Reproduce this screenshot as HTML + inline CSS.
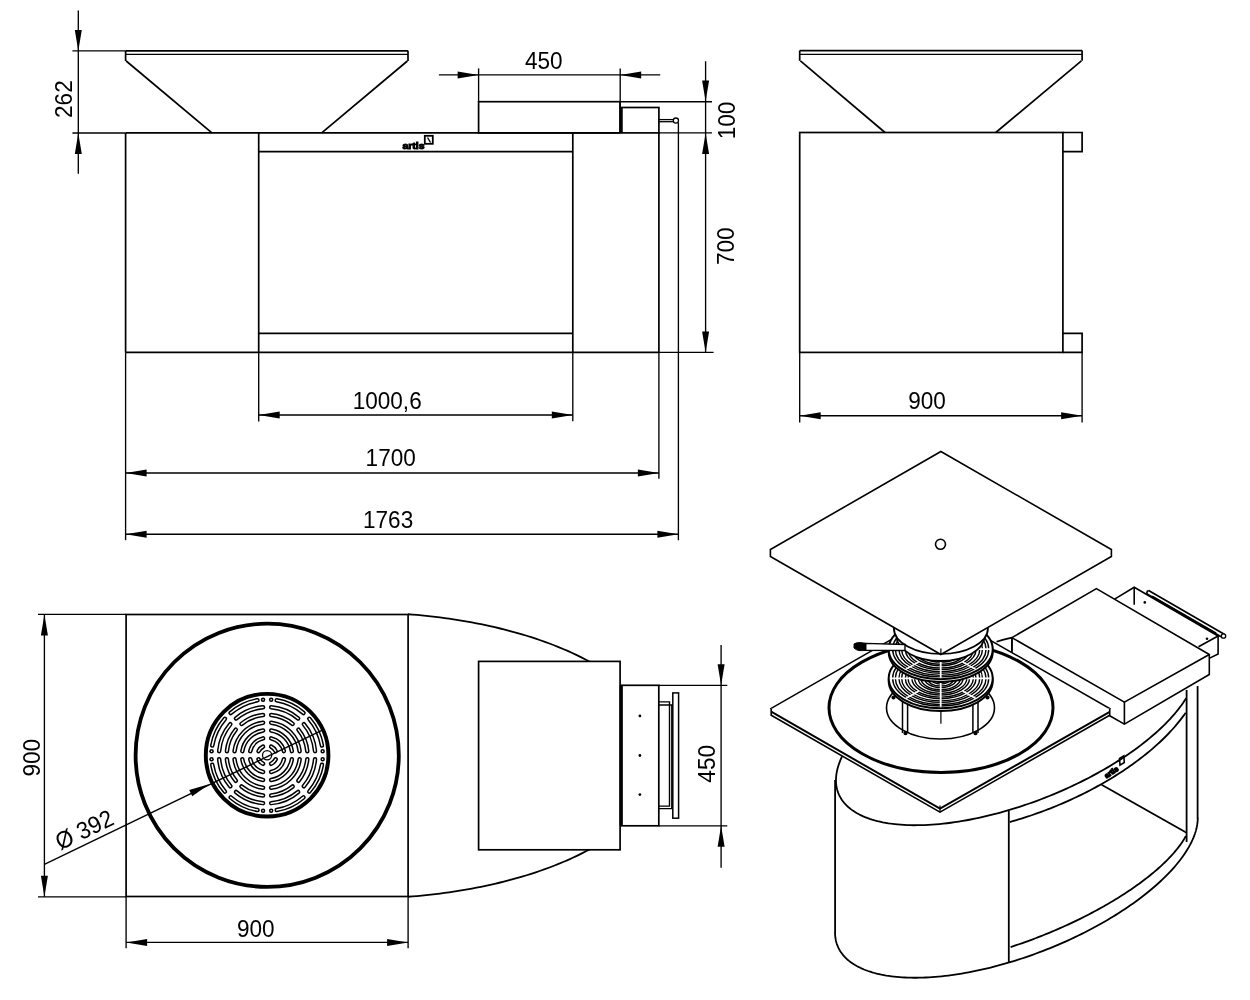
<!DOCTYPE html>
<html><head><meta charset="utf-8"><style>
html,body{margin:0;padding:0;background:#fff;overflow:hidden;}
svg{display:block;will-change:transform;}
text{font-family:"Liberation Sans",sans-serif;fill:#000;}
</style></head><body>
<svg width="1250" height="1000" viewBox="0 0 1250 1000">
<rect width="1250" height="1000" fill="#fff"/>
<line x1="78.30" y1="10.40" x2="78.30" y2="173.70" stroke="#000" stroke-width="1.35"/>
<line x1="72.40" y1="50.90" x2="125.60" y2="50.90" stroke="#000" stroke-width="1.35"/>
<line x1="72.40" y1="133.00" x2="125.60" y2="133.00" stroke="#000" stroke-width="1.35"/>
<polygon points="78.30,50.90 74.80,29.90 81.80,29.90" fill="#000"/>
<polygon points="78.30,133.00 81.80,154.00 74.80,154.00" fill="#000"/>
<text font-size="24" text-anchor="middle" transform="translate(72.38,99.12) rotate(-90) scale(0.94,1)">262</text>
<line x1="125.60" y1="50.80" x2="408.00" y2="50.80" stroke="#000" stroke-width="1.7"/>
<line x1="125.60" y1="54.40" x2="408.00" y2="54.40" stroke="#000" stroke-width="1.3"/>
<line x1="125.60" y1="50.80" x2="125.60" y2="61.00" stroke="#000" stroke-width="1.7"/>
<line x1="408.00" y1="50.80" x2="408.00" y2="61.00" stroke="#000" stroke-width="1.7"/>
<line x1="126.20" y1="61.00" x2="211.90" y2="132.80" stroke="#000" stroke-width="1.7"/>
<line x1="407.40" y1="61.00" x2="321.70" y2="132.80" stroke="#000" stroke-width="1.7"/>
<line x1="125.60" y1="132.90" x2="620.00" y2="132.90" stroke="#000" stroke-width="1.7"/>
<line x1="125.60" y1="132.90" x2="125.60" y2="352.40" stroke="#000" stroke-width="1.7"/>
<line x1="125.60" y1="352.40" x2="659.00" y2="352.40" stroke="#000" stroke-width="1.7"/>
<line x1="659.00" y1="352.40" x2="713.60" y2="352.40" stroke="#000" stroke-width="1.35"/>
<line x1="125.60" y1="352.40" x2="125.60" y2="540.20" stroke="#000" stroke-width="1.35"/>
<line x1="258.70" y1="132.90" x2="258.70" y2="352.40" stroke="#000" stroke-width="1.7"/>
<line x1="258.70" y1="352.40" x2="258.70" y2="421.60" stroke="#000" stroke-width="1.35"/>
<line x1="572.80" y1="132.90" x2="572.80" y2="352.40" stroke="#000" stroke-width="1.7"/>
<line x1="572.80" y1="352.40" x2="572.80" y2="421.20" stroke="#000" stroke-width="1.35"/>
<line x1="258.70" y1="151.60" x2="572.80" y2="151.60" stroke="#000" stroke-width="1.7"/>
<line x1="258.70" y1="333.40" x2="572.80" y2="333.40" stroke="#000" stroke-width="1.7"/>
<line x1="658.90" y1="132.90" x2="658.90" y2="352.40" stroke="#000" stroke-width="1.7"/>
<line x1="658.90" y1="352.40" x2="658.90" y2="478.80" stroke="#000" stroke-width="1.35"/>
<line x1="678.40" y1="122.50" x2="678.40" y2="540.20" stroke="#000" stroke-width="1.35"/>
<text x="402.5" y="148.6" font-size="10.5" font-weight="bold" textLength="22" lengthAdjust="spacingAndGlyphs" stroke="#000" stroke-width="1.1" fill="#222" transform="translate(402.5,148.6) scale(1,0.85) translate(-402.5,-148.6)">artis</text>
<rect x="424.80" y="135.80" width="8.00" height="8.00" fill="none" stroke="#000" stroke-width="1.8"/>
<line x1="427.50" y1="137.50" x2="430.50" y2="142.50" stroke="#000" stroke-width="1.4"/>
<rect x="478.60" y="101.70" width="141.40" height="31.20" fill="none" stroke="#000" stroke-width="1.7"/>
<line x1="620.00" y1="101.70" x2="712.00" y2="101.70" stroke="#000" stroke-width="1.35"/>
<line x1="478.60" y1="68.40" x2="478.60" y2="101.70" stroke="#000" stroke-width="1.35"/>
<line x1="620.20" y1="68.40" x2="620.20" y2="107.50" stroke="#000" stroke-width="1.35"/>
<rect x="621.50" y="107.50" width="37.40" height="25.40" fill="none" stroke="#000" stroke-width="1.7"/>
<line x1="621.00" y1="107.50" x2="621.00" y2="132.90" stroke="#000" stroke-width="3.2"/>
<line x1="658.90" y1="132.90" x2="712.00" y2="132.90" stroke="#000" stroke-width="1.35"/>
<line x1="658.90" y1="119.60" x2="673.20" y2="119.60" stroke="#000" stroke-width="1.3"/>
<line x1="658.90" y1="121.70" x2="673.20" y2="121.70" stroke="#000" stroke-width="1.3"/>
<circle cx="675.90" cy="120.60" r="2.60" fill="#fff" stroke="#000" stroke-width="1.3"/>
<line x1="438.90" y1="74.90" x2="660.20" y2="74.90" stroke="#000" stroke-width="1.35"/>
<polygon points="478.60,74.90 457.60,78.40 457.60,71.40" fill="#000"/>
<polygon points="620.20,74.90 641.20,71.40 641.20,78.40" fill="#000"/>
<text font-size="24" text-anchor="middle" transform="translate(543.80,68.50) rotate(0) scale(0.94,1)">450</text>
<line x1="705.60" y1="61.20" x2="705.60" y2="352.40" stroke="#000" stroke-width="1.35"/>
<polygon points="705.60,101.50 702.10,80.50 709.10,80.50" fill="#000"/>
<polygon points="705.60,132.90 709.10,153.90 702.10,153.90" fill="#000"/>
<polygon points="705.60,352.40 702.10,331.40 709.10,331.40" fill="#000"/>
<text font-size="24" text-anchor="middle" transform="translate(734.88,120.50) rotate(-90) scale(0.94,1)">100</text>
<text font-size="24" text-anchor="middle" transform="translate(733.50,246.25) rotate(-90) scale(0.94,1)">700</text>
<line x1="258.70" y1="415.00" x2="572.80" y2="415.00" stroke="#000" stroke-width="1.35"/>
<polygon points="258.70,415.00 279.70,411.50 279.70,418.50" fill="#000"/>
<polygon points="572.80,415.00 551.80,418.50 551.80,411.50" fill="#000"/>
<text font-size="24" text-anchor="middle" transform="translate(387.20,408.50) rotate(0) scale(0.94,1)">1000,6</text>
<line x1="125.60" y1="473.00" x2="658.90" y2="473.00" stroke="#000" stroke-width="1.35"/>
<polygon points="125.60,473.00 146.60,469.50 146.60,476.50" fill="#000"/>
<polygon points="658.90,473.00 637.90,476.50 637.90,469.50" fill="#000"/>
<text font-size="24" text-anchor="middle" transform="translate(390.70,466.25) rotate(0) scale(0.94,1)">1700</text>
<line x1="125.60" y1="534.20" x2="678.40" y2="534.20" stroke="#000" stroke-width="1.35"/>
<polygon points="125.60,534.20 146.60,530.70 146.60,537.70" fill="#000"/>
<polygon points="678.40,534.20 657.40,537.70 657.40,530.70" fill="#000"/>
<text font-size="24" text-anchor="middle" transform="translate(388.10,527.70) rotate(0) scale(0.94,1)">1763</text>
<line x1="799.70" y1="50.60" x2="1082.10" y2="50.60" stroke="#000" stroke-width="1.7"/>
<line x1="799.70" y1="54.30" x2="1082.10" y2="54.30" stroke="#000" stroke-width="1.3"/>
<line x1="799.70" y1="50.60" x2="799.70" y2="60.80" stroke="#000" stroke-width="1.7"/>
<line x1="1082.10" y1="50.60" x2="1082.10" y2="60.80" stroke="#000" stroke-width="1.7"/>
<line x1="800.40" y1="60.80" x2="885.00" y2="132.50" stroke="#000" stroke-width="1.7"/>
<line x1="1081.40" y1="60.80" x2="995.80" y2="132.50" stroke="#000" stroke-width="1.7"/>
<rect x="799.70" y="132.50" width="263.20" height="219.90" fill="none" stroke="#000" stroke-width="1.7"/>
<polyline points="1062.90,132.50 1082.10,132.50 1082.10,151.60 1062.90,151.60" fill="none" stroke="#000" stroke-width="1.7" stroke-linejoin="miter" />
<polyline points="1062.90,333.30 1082.10,333.30 1082.10,352.40 1062.90,352.40" fill="none" stroke="#000" stroke-width="1.7" stroke-linejoin="miter" />
<line x1="799.70" y1="352.40" x2="799.70" y2="422.40" stroke="#000" stroke-width="1.35"/>
<line x1="1082.10" y1="352.40" x2="1082.10" y2="422.40" stroke="#000" stroke-width="1.35"/>
<line x1="799.70" y1="415.70" x2="1082.10" y2="415.70" stroke="#000" stroke-width="1.35"/>
<polygon points="799.70,415.70 820.70,412.20 820.70,419.20" fill="#000"/>
<polygon points="1082.10,415.70 1061.10,419.20 1061.10,412.20" fill="#000"/>
<text font-size="24" text-anchor="middle" transform="translate(927.05,409.00) rotate(0) scale(0.94,1)">900</text>
<polyline points="408.00,614.23 412.56,614.59 417.12,614.97 421.69,615.40 426.25,615.86 430.81,616.35 435.38,616.87 439.94,617.44 444.50,618.04 449.06,618.67 453.62,619.35 458.19,620.06 462.75,620.80 467.31,621.59 471.88,622.42 476.44,623.28 481.00,624.19 485.56,625.14 490.12,626.14 494.69,627.17 499.25,628.25 503.81,629.38 508.38,630.55 512.94,631.78 517.50,633.05 522.06,634.38 526.62,635.75 531.19,637.19 535.75,638.68 540.31,640.23 544.88,641.84 549.44,643.52 554.00,645.26 558.56,647.08 563.12,648.97 567.69,650.93 572.25,652.99 576.81,655.12 581.38,657.36 585.94,659.69 590.50,662.13" fill="none" stroke="#000" stroke-width="1.8" stroke-linejoin="miter" />
<polyline points="408.00,896.77 412.56,896.41 417.12,896.03 421.69,895.60 426.25,895.14 430.81,894.65 435.38,894.13 439.94,893.56 444.50,892.96 449.06,892.33 453.62,891.65 458.19,890.94 462.75,890.20 467.31,889.41 471.88,888.58 476.44,887.72 481.00,886.81 485.56,885.86 490.12,884.86 494.69,883.83 499.25,882.75 503.81,881.62 508.38,880.45 512.94,879.22 517.50,877.95 522.06,876.62 526.62,875.25 531.19,873.81 535.75,872.32 540.31,870.77 544.88,869.16 549.44,867.48 554.00,865.74 558.56,863.92 563.12,862.03 567.69,860.07 572.25,858.01 576.81,855.88 581.38,853.64 585.94,851.31 590.50,848.87" fill="none" stroke="#000" stroke-width="1.8" stroke-linejoin="miter" />
<rect x="126.10" y="614.50" width="282.00" height="282.00" fill="none" stroke="#000" stroke-width="1.7"/>
<circle cx="267.20" cy="755.30" r="131.60" fill="none" stroke="#000" stroke-width="3.8"/>
<line x1="38.00" y1="614.40" x2="126.10" y2="614.40" stroke="#000" stroke-width="1.35"/>
<line x1="38.00" y1="896.80" x2="126.10" y2="896.80" stroke="#000" stroke-width="1.35"/>
<line x1="44.40" y1="614.40" x2="44.40" y2="896.80" stroke="#000" stroke-width="1.35"/>
<polygon points="44.40,614.40 47.90,635.40 40.90,635.40" fill="#000"/>
<polygon points="44.40,896.80 40.90,875.80 47.90,875.80" fill="#000"/>
<text font-size="24" text-anchor="middle" transform="translate(40.12,757.78) rotate(-90) scale(0.94,1)">900</text>
<line x1="126.10" y1="896.50" x2="126.10" y2="948.20" stroke="#000" stroke-width="1.35"/>
<line x1="408.10" y1="896.50" x2="408.10" y2="948.20" stroke="#000" stroke-width="1.35"/>
<line x1="126.10" y1="942.40" x2="408.10" y2="942.40" stroke="#000" stroke-width="1.35"/>
<polygon points="126.10,942.40 147.10,938.90 147.10,945.90" fill="#000"/>
<polygon points="408.10,942.40 387.10,945.90 387.10,938.90" fill="#000"/>
<text font-size="24" text-anchor="middle" transform="translate(255.85,936.85) rotate(0) scale(0.94,1)">900</text>
<path d="M275.69,751.15 A9.50,9.50 0 0 0 271.15,746.61" fill="none" stroke="#000" stroke-width="4.5" stroke-linecap="round"/>
<path d="M283.92,751.15 A17.30,17.30 0 0 0 271.15,738.38" fill="none" stroke="#000" stroke-width="4.5" stroke-linecap="round"/>
<path d="M291.87,751.15 A25.10,25.10 0 0 0 271.15,730.43" fill="none" stroke="#000" stroke-width="4.5" stroke-linecap="round"/>
<path d="M299.65,751.15 A32.80,32.80 0 0 0 271.15,722.65" fill="none" stroke="#000" stroke-width="4.5" stroke-linecap="round"/>
<path d="M307.30,751.15 A40.40,40.40 0 0 0 298.39,729.64" fill="none" stroke="#000" stroke-width="4.5" stroke-linecap="round"/>
<path d="M292.66,723.91 A40.40,40.40 0 0 0 271.15,715.00" fill="none" stroke="#000" stroke-width="4.5" stroke-linecap="round"/>
<path d="M315.03,751.15 A48.10,48.10 0 0 0 303.85,724.17" fill="none" stroke="#000" stroke-width="4.5" stroke-linecap="round"/>
<path d="M298.13,718.45 A48.10,48.10 0 0 0 271.15,707.27" fill="none" stroke="#000" stroke-width="4.5" stroke-linecap="round"/>
<path d="M322.65,751.15 A55.70,55.70 0 0 0 322.65,751.14" fill="none" stroke="#000" stroke-width="4.5" stroke-linecap="round"/>
<path d="M321.97,745.59 A55.70,55.70 0 0 0 309.25,718.78" fill="none" stroke="#000" stroke-width="4.5" stroke-linecap="round"/>
<path d="M303.52,713.05 A55.70,55.70 0 0 0 276.71,700.33" fill="none" stroke="#000" stroke-width="4.5" stroke-linecap="round"/>
<path d="M271.16,699.65 A55.70,55.70 0 0 0 271.15,699.65" fill="none" stroke="#000" stroke-width="4.5" stroke-linecap="round"/>
<path d="M263.05,746.61 A9.50,9.50 0 0 0 258.51,751.15" fill="none" stroke="#000" stroke-width="4.5" stroke-linecap="round"/>
<path d="M263.05,738.38 A17.30,17.30 0 0 0 250.28,751.15" fill="none" stroke="#000" stroke-width="4.5" stroke-linecap="round"/>
<path d="M263.05,730.43 A25.10,25.10 0 0 0 242.33,751.15" fill="none" stroke="#000" stroke-width="4.5" stroke-linecap="round"/>
<path d="M263.05,722.65 A32.80,32.80 0 0 0 234.55,751.15" fill="none" stroke="#000" stroke-width="4.5" stroke-linecap="round"/>
<path d="M263.05,715.00 A40.40,40.40 0 0 0 241.54,723.91" fill="none" stroke="#000" stroke-width="4.5" stroke-linecap="round"/>
<path d="M235.81,729.64 A40.40,40.40 0 0 0 226.90,751.15" fill="none" stroke="#000" stroke-width="4.5" stroke-linecap="round"/>
<path d="M263.05,707.27 A48.10,48.10 0 0 0 236.07,718.45" fill="none" stroke="#000" stroke-width="4.5" stroke-linecap="round"/>
<path d="M230.35,724.17 A48.10,48.10 0 0 0 219.17,751.15" fill="none" stroke="#000" stroke-width="4.5" stroke-linecap="round"/>
<path d="M263.05,699.65 A55.70,55.70 0 0 0 263.04,699.65" fill="none" stroke="#000" stroke-width="4.5" stroke-linecap="round"/>
<path d="M257.49,700.33 A55.70,55.70 0 0 0 230.68,713.05" fill="none" stroke="#000" stroke-width="4.5" stroke-linecap="round"/>
<path d="M224.95,718.78 A55.70,55.70 0 0 0 212.23,745.59" fill="none" stroke="#000" stroke-width="4.5" stroke-linecap="round"/>
<path d="M211.55,751.14 A55.70,55.70 0 0 0 211.55,751.15" fill="none" stroke="#000" stroke-width="4.5" stroke-linecap="round"/>
<path d="M258.51,759.25 A9.50,9.50 0 0 0 263.05,763.79" fill="none" stroke="#000" stroke-width="4.5" stroke-linecap="round"/>
<path d="M250.28,759.25 A17.30,17.30 0 0 0 263.05,772.02" fill="none" stroke="#000" stroke-width="4.5" stroke-linecap="round"/>
<path d="M242.33,759.25 A25.10,25.10 0 0 0 263.05,779.97" fill="none" stroke="#000" stroke-width="4.5" stroke-linecap="round"/>
<path d="M234.55,759.25 A32.80,32.80 0 0 0 263.05,787.75" fill="none" stroke="#000" stroke-width="4.5" stroke-linecap="round"/>
<path d="M226.90,759.25 A40.40,40.40 0 0 0 235.81,780.76" fill="none" stroke="#000" stroke-width="4.5" stroke-linecap="round"/>
<path d="M241.54,786.49 A40.40,40.40 0 0 0 263.05,795.40" fill="none" stroke="#000" stroke-width="4.5" stroke-linecap="round"/>
<path d="M219.17,759.25 A48.10,48.10 0 0 0 230.35,786.23" fill="none" stroke="#000" stroke-width="4.5" stroke-linecap="round"/>
<path d="M236.07,791.95 A48.10,48.10 0 0 0 263.05,803.13" fill="none" stroke="#000" stroke-width="4.5" stroke-linecap="round"/>
<path d="M211.55,759.25 A55.70,55.70 0 0 0 211.55,759.26" fill="none" stroke="#000" stroke-width="4.5" stroke-linecap="round"/>
<path d="M212.23,764.81 A55.70,55.70 0 0 0 224.95,791.62" fill="none" stroke="#000" stroke-width="4.5" stroke-linecap="round"/>
<path d="M230.68,797.35 A55.70,55.70 0 0 0 257.49,810.07" fill="none" stroke="#000" stroke-width="4.5" stroke-linecap="round"/>
<path d="M263.04,810.75 A55.70,55.70 0 0 0 263.05,810.75" fill="none" stroke="#000" stroke-width="4.5" stroke-linecap="round"/>
<path d="M271.15,763.79 A9.50,9.50 0 0 0 275.69,759.25" fill="none" stroke="#000" stroke-width="4.5" stroke-linecap="round"/>
<path d="M271.15,772.02 A17.30,17.30 0 0 0 283.92,759.25" fill="none" stroke="#000" stroke-width="4.5" stroke-linecap="round"/>
<path d="M271.15,779.97 A25.10,25.10 0 0 0 291.87,759.25" fill="none" stroke="#000" stroke-width="4.5" stroke-linecap="round"/>
<path d="M271.15,787.75 A32.80,32.80 0 0 0 299.65,759.25" fill="none" stroke="#000" stroke-width="4.5" stroke-linecap="round"/>
<path d="M271.15,795.40 A40.40,40.40 0 0 0 292.66,786.49" fill="none" stroke="#000" stroke-width="4.5" stroke-linecap="round"/>
<path d="M298.39,780.76 A40.40,40.40 0 0 0 307.30,759.25" fill="none" stroke="#000" stroke-width="4.5" stroke-linecap="round"/>
<path d="M271.15,803.13 A48.10,48.10 0 0 0 298.13,791.95" fill="none" stroke="#000" stroke-width="4.5" stroke-linecap="round"/>
<path d="M303.85,786.23 A48.10,48.10 0 0 0 315.03,759.25" fill="none" stroke="#000" stroke-width="4.5" stroke-linecap="round"/>
<path d="M271.15,810.75 A55.70,55.70 0 0 0 271.16,810.75" fill="none" stroke="#000" stroke-width="4.5" stroke-linecap="round"/>
<path d="M276.71,810.07 A55.70,55.70 0 0 0 303.52,797.35" fill="none" stroke="#000" stroke-width="4.5" stroke-linecap="round"/>
<path d="M309.25,791.62 A55.70,55.70 0 0 0 321.97,764.81" fill="none" stroke="#000" stroke-width="4.5" stroke-linecap="round"/>
<path d="M322.65,759.26 A55.70,55.70 0 0 0 322.65,759.25" fill="none" stroke="#000" stroke-width="4.5" stroke-linecap="round"/>
<path d="M275.69,751.15 A9.50,9.50 0 0 0 271.15,746.61" fill="none" stroke="#fff" stroke-width="1.5" stroke-linecap="round"/>
<path d="M283.92,751.15 A17.30,17.30 0 0 0 271.15,738.38" fill="none" stroke="#fff" stroke-width="1.5" stroke-linecap="round"/>
<path d="M291.87,751.15 A25.10,25.10 0 0 0 271.15,730.43" fill="none" stroke="#fff" stroke-width="1.5" stroke-linecap="round"/>
<path d="M299.65,751.15 A32.80,32.80 0 0 0 271.15,722.65" fill="none" stroke="#fff" stroke-width="1.5" stroke-linecap="round"/>
<path d="M307.30,751.15 A40.40,40.40 0 0 0 298.39,729.64" fill="none" stroke="#fff" stroke-width="1.5" stroke-linecap="round"/>
<path d="M292.66,723.91 A40.40,40.40 0 0 0 271.15,715.00" fill="none" stroke="#fff" stroke-width="1.5" stroke-linecap="round"/>
<path d="M315.03,751.15 A48.10,48.10 0 0 0 303.85,724.17" fill="none" stroke="#fff" stroke-width="1.5" stroke-linecap="round"/>
<path d="M298.13,718.45 A48.10,48.10 0 0 0 271.15,707.27" fill="none" stroke="#fff" stroke-width="1.5" stroke-linecap="round"/>
<path d="M322.65,751.15 A55.70,55.70 0 0 0 322.65,751.14" fill="none" stroke="#fff" stroke-width="1.5" stroke-linecap="round"/>
<path d="M321.97,745.59 A55.70,55.70 0 0 0 309.25,718.78" fill="none" stroke="#fff" stroke-width="1.5" stroke-linecap="round"/>
<path d="M303.52,713.05 A55.70,55.70 0 0 0 276.71,700.33" fill="none" stroke="#fff" stroke-width="1.5" stroke-linecap="round"/>
<path d="M271.16,699.65 A55.70,55.70 0 0 0 271.15,699.65" fill="none" stroke="#fff" stroke-width="1.5" stroke-linecap="round"/>
<path d="M263.05,746.61 A9.50,9.50 0 0 0 258.51,751.15" fill="none" stroke="#fff" stroke-width="1.5" stroke-linecap="round"/>
<path d="M263.05,738.38 A17.30,17.30 0 0 0 250.28,751.15" fill="none" stroke="#fff" stroke-width="1.5" stroke-linecap="round"/>
<path d="M263.05,730.43 A25.10,25.10 0 0 0 242.33,751.15" fill="none" stroke="#fff" stroke-width="1.5" stroke-linecap="round"/>
<path d="M263.05,722.65 A32.80,32.80 0 0 0 234.55,751.15" fill="none" stroke="#fff" stroke-width="1.5" stroke-linecap="round"/>
<path d="M263.05,715.00 A40.40,40.40 0 0 0 241.54,723.91" fill="none" stroke="#fff" stroke-width="1.5" stroke-linecap="round"/>
<path d="M235.81,729.64 A40.40,40.40 0 0 0 226.90,751.15" fill="none" stroke="#fff" stroke-width="1.5" stroke-linecap="round"/>
<path d="M263.05,707.27 A48.10,48.10 0 0 0 236.07,718.45" fill="none" stroke="#fff" stroke-width="1.5" stroke-linecap="round"/>
<path d="M230.35,724.17 A48.10,48.10 0 0 0 219.17,751.15" fill="none" stroke="#fff" stroke-width="1.5" stroke-linecap="round"/>
<path d="M263.05,699.65 A55.70,55.70 0 0 0 263.04,699.65" fill="none" stroke="#fff" stroke-width="1.5" stroke-linecap="round"/>
<path d="M257.49,700.33 A55.70,55.70 0 0 0 230.68,713.05" fill="none" stroke="#fff" stroke-width="1.5" stroke-linecap="round"/>
<path d="M224.95,718.78 A55.70,55.70 0 0 0 212.23,745.59" fill="none" stroke="#fff" stroke-width="1.5" stroke-linecap="round"/>
<path d="M211.55,751.14 A55.70,55.70 0 0 0 211.55,751.15" fill="none" stroke="#fff" stroke-width="1.5" stroke-linecap="round"/>
<path d="M258.51,759.25 A9.50,9.50 0 0 0 263.05,763.79" fill="none" stroke="#fff" stroke-width="1.5" stroke-linecap="round"/>
<path d="M250.28,759.25 A17.30,17.30 0 0 0 263.05,772.02" fill="none" stroke="#fff" stroke-width="1.5" stroke-linecap="round"/>
<path d="M242.33,759.25 A25.10,25.10 0 0 0 263.05,779.97" fill="none" stroke="#fff" stroke-width="1.5" stroke-linecap="round"/>
<path d="M234.55,759.25 A32.80,32.80 0 0 0 263.05,787.75" fill="none" stroke="#fff" stroke-width="1.5" stroke-linecap="round"/>
<path d="M226.90,759.25 A40.40,40.40 0 0 0 235.81,780.76" fill="none" stroke="#fff" stroke-width="1.5" stroke-linecap="round"/>
<path d="M241.54,786.49 A40.40,40.40 0 0 0 263.05,795.40" fill="none" stroke="#fff" stroke-width="1.5" stroke-linecap="round"/>
<path d="M219.17,759.25 A48.10,48.10 0 0 0 230.35,786.23" fill="none" stroke="#fff" stroke-width="1.5" stroke-linecap="round"/>
<path d="M236.07,791.95 A48.10,48.10 0 0 0 263.05,803.13" fill="none" stroke="#fff" stroke-width="1.5" stroke-linecap="round"/>
<path d="M211.55,759.25 A55.70,55.70 0 0 0 211.55,759.26" fill="none" stroke="#fff" stroke-width="1.5" stroke-linecap="round"/>
<path d="M212.23,764.81 A55.70,55.70 0 0 0 224.95,791.62" fill="none" stroke="#fff" stroke-width="1.5" stroke-linecap="round"/>
<path d="M230.68,797.35 A55.70,55.70 0 0 0 257.49,810.07" fill="none" stroke="#fff" stroke-width="1.5" stroke-linecap="round"/>
<path d="M263.04,810.75 A55.70,55.70 0 0 0 263.05,810.75" fill="none" stroke="#fff" stroke-width="1.5" stroke-linecap="round"/>
<path d="M271.15,763.79 A9.50,9.50 0 0 0 275.69,759.25" fill="none" stroke="#fff" stroke-width="1.5" stroke-linecap="round"/>
<path d="M271.15,772.02 A17.30,17.30 0 0 0 283.92,759.25" fill="none" stroke="#fff" stroke-width="1.5" stroke-linecap="round"/>
<path d="M271.15,779.97 A25.10,25.10 0 0 0 291.87,759.25" fill="none" stroke="#fff" stroke-width="1.5" stroke-linecap="round"/>
<path d="M271.15,787.75 A32.80,32.80 0 0 0 299.65,759.25" fill="none" stroke="#fff" stroke-width="1.5" stroke-linecap="round"/>
<path d="M271.15,795.40 A40.40,40.40 0 0 0 292.66,786.49" fill="none" stroke="#fff" stroke-width="1.5" stroke-linecap="round"/>
<path d="M298.39,780.76 A40.40,40.40 0 0 0 307.30,759.25" fill="none" stroke="#fff" stroke-width="1.5" stroke-linecap="round"/>
<path d="M271.15,803.13 A48.10,48.10 0 0 0 298.13,791.95" fill="none" stroke="#fff" stroke-width="1.5" stroke-linecap="round"/>
<path d="M303.85,786.23 A48.10,48.10 0 0 0 315.03,759.25" fill="none" stroke="#fff" stroke-width="1.5" stroke-linecap="round"/>
<path d="M271.15,810.75 A55.70,55.70 0 0 0 271.16,810.75" fill="none" stroke="#fff" stroke-width="1.5" stroke-linecap="round"/>
<path d="M276.71,810.07 A55.70,55.70 0 0 0 303.52,797.35" fill="none" stroke="#fff" stroke-width="1.5" stroke-linecap="round"/>
<path d="M309.25,791.62 A55.70,55.70 0 0 0 321.97,764.81" fill="none" stroke="#fff" stroke-width="1.5" stroke-linecap="round"/>
<path d="M322.65,759.26 A55.70,55.70 0 0 0 322.65,759.25" fill="none" stroke="#fff" stroke-width="1.5" stroke-linecap="round"/>
<circle cx="267.10" cy="755.20" r="61.30" fill="none" stroke="#000" stroke-width="3.9"/>
<circle cx="267.10" cy="755.20" r="4.60" fill="none" stroke="#000" stroke-width="1.3"/>
<line x1="44.40" y1="864.40" x2="324.00" y2="729.30" stroke="#000" stroke-width="1.35"/>
<polygon points="209.60,784.00 192.25,796.34 189.19,790.04" fill="#000"/>
<text font-size="24" text-anchor="middle" transform="translate(87.8,837.2) rotate(-25.9) scale(0.94,1)">Ø 392</text>
<rect x="478.60" y="661.40" width="141.50" height="188.40" fill="#fff" stroke="#000" stroke-width="1.7"/>
<rect x="621.80" y="685.30" width="37.00" height="140.50" fill="none" stroke="#000" stroke-width="1.7"/>
<line x1="621.10" y1="685.30" x2="621.10" y2="825.80" stroke="#000" stroke-width="3.0"/>
<circle cx="639.90" cy="715.90" r="1.40" fill="#000" stroke="#000" stroke-width="0"/>
<circle cx="639.90" cy="755.50" r="1.40" fill="#000" stroke="#000" stroke-width="0"/>
<circle cx="639.90" cy="794.60" r="1.40" fill="#000" stroke="#000" stroke-width="0"/>
<rect x="672.80" y="692.90" width="5.80" height="125.30" fill="none" stroke="#000" stroke-width="1.5"/>
<path d="M658.8,701.9 L669.5,701.9 L669.5,806.1 L658.8,806.1" fill="none" stroke="#000" stroke-width="1.4" />
<path d="M658.8,705.0 L671.8,705.0 L671.8,808.6 L658.8,808.6" fill="none" stroke="#000" stroke-width="1.4" />
<line x1="658.80" y1="685.30" x2="727.30" y2="685.30" stroke="#000" stroke-width="1.35"/>
<line x1="658.80" y1="825.80" x2="727.30" y2="825.80" stroke="#000" stroke-width="1.35"/>
<line x1="721.10" y1="645.00" x2="721.10" y2="867.70" stroke="#000" stroke-width="1.35"/>
<polygon points="721.10,685.30 717.60,664.30 724.60,664.30" fill="#000"/>
<polygon points="721.10,825.80 724.60,846.80 717.60,846.80" fill="#000"/>
<text font-size="24" text-anchor="middle" transform="translate(714.60,763.85) rotate(-90) scale(0.94,1)">450</text>
<path d="M835.03,932.54 L835.07,934.21 L835.18,935.85 L835.35,937.47 L835.60,939.07 L835.92,940.64 L836.31,942.19 L836.77,943.71 L837.30,945.21 L837.90,946.67 L838.57,948.11 L839.30,949.52 L840.11,950.91 L840.99,952.26 L841.93,953.58 L842.95,954.87 L844.03,956.13 L845.18,957.36 L846.39,958.56 L847.67,959.72 L849.02,960.85 L850.43,961.95 L851.91,963.01 L853.45,964.04 L855.06,965.04 L856.72,966.00 L858.45,966.92 L860.25,967.81 L862.10,968.66 L864.01,969.48 L865.98,970.26 L868.02,971.00 L870.11,971.70 L872.25,972.37 L874.46,973.00 L876.71,973.59 L879.03,974.14 L881.39,974.66 L883.81,975.13 L886.28,975.57 L888.80,975.96 L891.38,976.32 L894.00,976.64 L896.66,976.92 L899.38,977.16 L902.14,977.35 L904.94,977.51 L907.79,977.63 L910.68,977.71 L913.62,977.75 L916.59,977.75 L919.60,977.71 L922.65,977.63 L925.73,977.51 L928.86,977.34 L932.01,977.14 L935.20,976.90 L938.42,976.62 L941.67,976.30 L944.95,975.94 L948.26,975.54 L951.59,975.11 L954.95,974.63 L958.33,974.11 L961.74,973.56 L965.17,972.97 L968.61,972.33 L972.08,971.67 L975.56,970.96 L979.06,970.22 L982.58,969.43 L986.10,968.62 L989.64,967.76 L993.19,966.87 L996.75,965.95 L1000.32,964.98 L1003.89,963.99 L1007.47,962.96 L1011.05,961.89 L1014.63,960.79 L1018.21,959.66 L1021.79,958.49 L1025.38,957.29 L1028.95,956.06 L1032.52,954.80 L1036.09,953.51 L1039.65,952.18 L1043.20,950.83 L1046.74,949.45 L1050.26,948.04 L1053.78,946.59 L1057.28,945.13 L1060.76,943.63 L1064.23,942.11 L1067.67,940.56 L1071.10,938.98 L1074.51,937.39 L1077.89,935.76 L1081.25,934.12 L1084.58,932.45 L1087.89,930.75 L1091.17,929.04 L1094.42,927.30 L1097.64,925.55 L1100.83,923.77 L1103.98,921.98 L1107.10,920.17 L1110.19,918.34 L1113.23,916.49 L1116.25,914.63 L1119.22,912.75 L1122.15,910.86 L1125.04,908.95 L1127.89,907.03 L1130.69,905.10 L1133.45,903.15 L1136.17,901.20 L1138.83,899.23 L1141.45,897.26 L1144.02,895.28 L1146.55,893.29 L1149.02,891.29 L1151.43,889.28 L1153.80,887.27 L1156.11,885.26 L1158.37,883.24 L1160.57,881.22 L1162.72,879.20 L1164.81,877.17 L1166.84,875.14 L1168.81,873.12 L1170.72,871.09 L1172.57,869.07 L1174.37,867.05 L1176.10,865.03 L1177.76,863.02 L1179.37,861.01 L1180.91,859.00 L1182.39,857.00 L1183.80,855.01 L1185.14,853.03 L1186.42,851.06 L1187.64,849.09 L1188.79,847.14 L1189.87,845.19 L1190.88,843.26 L1191.82,841.34 L1192.70,839.44 L1193.50,837.55 L1194.24,835.67 L1194.91,833.81 L1195.51,831.96 L1196.04,830.13 L1196.50,828.32 L1196.88,826.53 L1197.20,824.75 L1197.45,823.00 L1197.63,821.27 L1197.73,819.55 L1197.77,817.86 L1197.7,686 L835.1,686 Z" fill="#fff" stroke="none"/>
<path d="M835.03,932.54 L835.07,934.21 L835.18,935.85 L835.35,937.47 L835.60,939.07 L835.92,940.64 L836.31,942.19 L836.77,943.71 L837.30,945.21 L837.90,946.67 L838.57,948.11 L839.30,949.52 L840.11,950.91 L840.99,952.26 L841.93,953.58 L842.95,954.87 L844.03,956.13 L845.18,957.36 L846.39,958.56 L847.67,959.72 L849.02,960.85 L850.43,961.95 L851.91,963.01 L853.45,964.04 L855.06,965.04 L856.72,966.00 L858.45,966.92 L860.25,967.81 L862.10,968.66 L864.01,969.48 L865.98,970.26 L868.02,971.00 L870.11,971.70 L872.25,972.37 L874.46,973.00 L876.71,973.59 L879.03,974.14 L881.39,974.66 L883.81,975.13 L886.28,975.57 L888.80,975.96 L891.38,976.32 L894.00,976.64 L896.66,976.92 L899.38,977.16 L902.14,977.35 L904.94,977.51 L907.79,977.63 L910.68,977.71 L913.62,977.75 L916.59,977.75 L919.60,977.71 L922.65,977.63 L925.73,977.51 L928.86,977.34 L932.01,977.14 L935.20,976.90 L938.42,976.62 L941.67,976.30 L944.95,975.94 L948.26,975.54 L951.59,975.11 L954.95,974.63 L958.33,974.11 L961.74,973.56 L965.17,972.97 L968.61,972.33 L972.08,971.67 L975.56,970.96 L979.06,970.22 L982.58,969.43 L986.10,968.62 L989.64,967.76 L993.19,966.87 L996.75,965.95 L1000.32,964.98 L1003.89,963.99 L1007.47,962.96 L1011.05,961.89 L1014.63,960.79 L1018.21,959.66 L1021.79,958.49 L1025.38,957.29 L1028.95,956.06 L1032.52,954.80 L1036.09,953.51 L1039.65,952.18 L1043.20,950.83 L1046.74,949.45 L1050.26,948.04 L1053.78,946.59 L1057.28,945.13 L1060.76,943.63 L1064.23,942.11 L1067.67,940.56 L1071.10,938.98 L1074.51,937.39 L1077.89,935.76 L1081.25,934.12 L1084.58,932.45 L1087.89,930.75 L1091.17,929.04 L1094.42,927.30 L1097.64,925.55 L1100.83,923.77 L1103.98,921.98 L1107.10,920.17 L1110.19,918.34 L1113.23,916.49 L1116.25,914.63 L1119.22,912.75 L1122.15,910.86 L1125.04,908.95 L1127.89,907.03 L1130.69,905.10 L1133.45,903.15 L1136.17,901.20 L1138.83,899.23 L1141.45,897.26 L1144.02,895.28 L1146.55,893.29 L1149.02,891.29 L1151.43,889.28 L1153.80,887.27 L1156.11,885.26 L1158.37,883.24 L1160.57,881.22 L1162.72,879.20 L1164.81,877.17 L1166.84,875.14 L1168.81,873.12 L1170.72,871.09 L1172.57,869.07 L1174.37,867.05 L1176.10,865.03 L1177.76,863.02 L1179.37,861.01 L1180.91,859.00 L1182.39,857.00 L1183.80,855.01 L1185.14,853.03 L1186.42,851.06 L1187.64,849.09 L1188.79,847.14 L1189.87,845.19 L1190.88,843.26 L1191.82,841.34 L1192.70,839.44 L1193.50,837.55 L1194.24,835.67 L1194.91,833.81 L1195.51,831.96 L1196.04,830.13 L1196.50,828.32 L1196.88,826.53 L1197.20,824.75 L1197.45,823.00 L1197.63,821.27 L1197.73,819.55 L1197.77,817.86" fill="none" stroke="#000" stroke-width="1.8" />
<line x1="835.10" y1="780.00" x2="835.10" y2="933.00" stroke="#000" stroke-width="1.8"/>
<line x1="1197.60" y1="686.00" x2="1197.60" y2="818.50" stroke="#000" stroke-width="1.8"/>
<line x1="1186.60" y1="690.00" x2="1186.60" y2="842.00" stroke="#000" stroke-width="1.8"/>
<path d="M861.25,729.05 L859.16,731.41 L857.16,733.75 L855.24,736.10 L853.40,738.44 L851.66,740.77 L850.00,743.09 L848.43,745.39 L846.95,747.69 L845.57,749.98 L844.27,752.25 L843.06,754.50 L841.95,756.74 L840.93,758.96 L840.01,761.16 L839.18,763.34 L838.44,765.50 L837.80,767.63 L837.26,769.74 L836.81,771.83 L836.46,773.89 L836.20,775.93 L836.04,777.93 L835.98,779.91 L836.01,781.86 L836.14,783.77 L836.36,785.65 L836.69,787.50 L837.10,789.32 L837.62,791.10 L838.23,792.84 L838.93,794.55 L839.73,796.21 L840.63,797.84 L841.62,799.43 L842.70,800.98 L843.87,802.49 L845.14,803.95 L846.50,805.37 L847.95,806.75 L849.49,808.08 L851.12,809.37 L852.83,810.61 L854.64,811.80 L856.53,812.95 L858.51,814.05 L860.57,815.10 L862.71,816.10 L864.94,817.05 L867.25,817.95 L869.63,818.80 L872.10,819.60 L874.64,820.35 L877.26,821.04 L879.96,821.68 L882.72,822.28 L885.56,822.81 L888.47,823.30 L891.45,823.73 L894.49,824.10 L897.60,824.43 L900.77,824.70 L904.00,824.91 L907.30,825.07 L910.65,825.18 L914.06,825.23 L917.52,825.22 L921.04,825.17 L924.61,825.05 L928.22,824.89 L931.89,824.66 L935.60,824.39 L939.35,824.06 L943.14,823.68 L946.98,823.24 L950.85,822.75 L954.75,822.20 L958.69,821.61 L962.66,820.96 L966.66,820.25 L970.68,819.50 L974.73,818.69 L978.80,817.84 L982.89,816.93 L987.00,815.97 L991.12,814.96 L995.26,813.91 L999.41,812.80 L1003.57,811.65 L1007.74,810.45 L1011.91,809.20 L1016.08,807.91 L1020.25,806.57 L1024.42,805.19 L1028.59,803.76 L1032.75,802.30 L1036.90,800.78 L1041.04,799.23 L1045.17,797.64 L1049.28,796.00 L1053.37,794.33 L1057.44,792.62 L1061.50,790.87 L1065.52,789.09 L1069.53,787.27 L1073.50,785.41 L1077.44,783.53 L1081.35,781.61 L1085.23,779.66 L1089.07,777.68 L1092.87,775.67 L1096.63,773.63 L1100.34,771.56 L1104.01,769.47 L1107.64,767.36 L1111.21,765.22 L1114.74,763.06 L1118.21,760.88 L1121.63,758.67 L1124.99,756.45 L1128.29,754.21 L1131.53,751.95 L1134.72,749.68 L1137.83,747.40 L1140.89,745.10 L1143.87,742.79 L1146.79,740.47 L1149.64,738.14 L1152.42,735.80 L1155.13,733.45 L1157.76,731.10 L1160.31,728.75 L1162.79,726.39 L1165.19,724.03 L1167.51,721.67 L1169.75,719.31 L1171.91,716.96 L1173.98,714.60 L1175.97,712.25 L1177.88,709.91 L1179.69,707.57 L1181.42,705.25 L1183.07,702.93 L1184.62,700.62 L1186.08,698.33" fill="none" stroke="#000" stroke-width="1.8" />
<line x1="1008.80" y1="810.80" x2="1008.80" y2="962.60" stroke="#000" stroke-width="1.8"/>
<path d="M1009.73,822.02 L1012.66,821.20 L1015.59,820.34 L1018.52,819.47 L1021.45,818.57 L1024.38,817.64 L1027.31,816.70 L1030.23,815.73 L1033.15,814.73 L1036.07,813.72 L1038.98,812.68 L1041.89,811.62 L1044.79,810.53 L1047.68,809.43 L1050.56,808.30 L1053.44,807.15 L1056.31,805.98 L1059.17,804.79 L1062.01,803.58 L1064.85,802.35 L1067.67,801.10 L1070.48,799.84 L1073.28,798.55 L1076.06,797.24 L1078.83,795.92 L1081.58,794.57 L1084.32,793.21 L1087.04,791.83 L1089.74,790.44 L1092.42,789.02 L1095.09,787.59 L1097.73,786.15 L1100.36,784.69 L1102.96,783.21 L1105.54,781.72 L1108.10,780.22 L1110.64,778.70 L1113.15,777.16 L1115.64,775.62 L1118.11,774.06 L1120.55,772.48 L1122.96,770.90 L1125.35,769.30 L1127.71,767.69 L1130.04,766.07 L1132.34,764.44 L1134.62,762.80 L1136.86,761.15 L1139.08,759.49 L1141.26,757.82 L1143.42,756.15 L1145.54,754.46 L1147.63,752.77 L1149.68,751.07 L1151.71,749.36 L1153.70,747.64 L1155.65,745.92 L1157.58,744.20 L1159.46,742.47 L1161.31,740.73 L1163.13,738.99 L1164.90,737.25 L1166.64,735.50 L1168.35,733.75 L1170.01,731.99 L1171.64,730.24 L1173.23,728.48 L1174.78,726.72 L1176.29,724.96 L1177.76,723.20 L1179.19,721.44 L1180.58,719.68 L1181.92,717.92 L1183.23,716.16 L1184.50,714.41 L1185.72,712.65" fill="none" stroke="#000" stroke-width="1.8" />
<path d="M1010.63,947.04 L1013.40,946.13 L1016.17,945.20 L1018.94,944.26 L1021.71,943.30 L1024.48,942.32 L1027.25,941.33 L1030.01,940.32 L1032.77,939.29 L1035.53,938.25 L1038.28,937.19 L1041.03,936.11 L1043.77,935.02 L1046.50,933.92 L1049.23,932.80 L1051.94,931.67 L1054.65,930.52 L1057.35,929.36 L1060.04,928.18 L1062.72,927.00 L1065.39,925.80 L1068.04,924.58 L1070.68,923.36 L1073.31,922.12 L1075.92,920.87 L1078.52,919.61 L1081.11,918.34 L1083.67,917.06 L1086.22,915.76 L1088.76,914.46 L1091.27,913.15 L1093.77,911.82 L1096.25,910.49 L1098.70,909.15 L1101.14,907.80 L1103.56,906.45 L1105.95,905.08 L1108.32,903.71 L1110.67,902.33 L1113.00,900.95 L1115.30,899.55 L1117.57,898.15 L1119.83,896.75 L1122.05,895.34 L1124.25,893.93 L1126.42,892.51 L1128.57,891.08 L1130.69,889.66 L1132.77,888.23 L1134.83,886.79 L1136.86,885.35 L1138.86,883.91 L1140.83,882.47 L1142.77,881.03 L1144.68,879.58 L1146.55,878.14 L1148.40,876.69 L1150.21,875.24 L1151.98,873.80 L1153.72,872.35 L1155.43,870.90 L1157.11,869.46 L1158.75,868.01 L1160.35,866.57 L1161.92,865.13 L1163.45,863.69 L1164.94,862.26 L1166.40,860.83 L1167.82,859.40 L1169.20,857.98 L1170.54,856.56 L1171.85,855.14 L1173.12,853.73 L1174.35,852.33 L1175.53,850.93 L1176.68,849.54 L1177.79,848.15 L1178.86,846.77 L1179.89,845.40 L1180.88,844.03 L1181.82,842.68 L1182.73,841.33 L1183.59,839.99 L1184.41,838.65 L1185.19,837.33 L1185.93,836.02" fill="none" stroke="#000" stroke-width="1.8" />
<line x1="1101.60" y1="784.80" x2="1186.60" y2="832.80" stroke="#000" stroke-width="1.8"/>
<text font-size="8" font-weight="bold" stroke="#000" stroke-width="1.4" fill="#000" textLength="15" lengthAdjust="spacingAndGlyphs" transform="translate(1106.5,778.5) rotate(-34) scale(1,0.9)">artis</text>
<path d="M1119.5,758.5 L1123.8,755.8 L1124.3,762.5 L1120,765.2 Z" fill="none" stroke="#000" stroke-width="1.6" />
<polyline points="1114.60,599.10 1134.20,587.30 1218.10,636.00 1218.10,654.00 1209.20,658.40" fill="#fff" stroke="#000" stroke-width="1.6" stroke-linejoin="miter" />
<line x1="1134.20" y1="587.30" x2="1134.20" y2="604.70" stroke="#000" stroke-width="1.6"/>
<line x1="1198.50" y1="646.70" x2="1218.10" y2="636.00" stroke="#000" stroke-width="1.6"/>
<path d="M1148.6,590.6 L1224.3,634.2 M1147.9,594.6 L1221.0,636.8 M1148.6,590.6 Q1145.5,592.2 1147.9,594.6" stroke="#000" stroke-width="1.7" fill="none"/>
<line x1="1152.00" y1="596.50" x2="1216.00" y2="633.50" stroke="#000" stroke-width="2.2"/>
<circle cx="1223.50" cy="636.00" r="2.20" fill="#fff" stroke="#000" stroke-width="1.3"/>
<circle cx="1144.80" cy="602.40" r="1.30" fill="#000" stroke="#000" stroke-width="0"/>
<circle cx="1207.00" cy="638.80" r="1.30" fill="#000" stroke="#000" stroke-width="0"/>
<polygon points="1096.40,588.60 1209.30,654.50 1209.30,674.50 1124.40,724.20 1109.70,715.80 1011.90,659.60 1011.90,637.60" fill="#fff" stroke="#000" stroke-width="1.6" stroke-linejoin="miter" />
<polyline points="1011.90,637.60 1124.40,702.20 1209.30,654.50" fill="none" stroke="#000" stroke-width="1.6" stroke-linejoin="miter" />
<line x1="1124.40" y1="702.20" x2="1124.40" y2="724.20" stroke="#000" stroke-width="1.6"/>
<line x1="1011.90" y1="637.60" x2="1011.90" y2="651.60" stroke="#000" stroke-width="1.7"/>
<path d="M1011.9,637.6 Q1003,639.5 996.5,641.8" fill="none" stroke="#000" stroke-width="1.7" />
<polygon points="771.20,708.40 940.00,611.50 1109.70,708.50 940.00,805.40" fill="#fff" stroke="#000" stroke-width="1.5" stroke-linejoin="miter" />
<polyline points="771.20,708.40 771.20,715.20 940.00,812.20 1109.70,715.30 1109.70,708.50" fill="#fff" stroke="#000" stroke-width="1.6" stroke-linejoin="miter" />
<polyline points="771.20,711.70 940.00,808.70 1109.70,711.80" fill="none" stroke="#000" stroke-width="2.0" stroke-linejoin="miter" />
<line x1="940.00" y1="805.40" x2="940.00" y2="812.20" stroke="#000" stroke-width="1.2"/>
<ellipse cx="941.00" cy="707.80" rx="112.00" ry="64.60" fill="none" stroke="#000" stroke-width="3.0"/>
<ellipse cx="940.50" cy="707.80" rx="54.00" ry="31.20" fill="none" stroke="#000" stroke-width="1.6"/>
<line x1="902.50" y1="700.00" x2="902.50" y2="733.00" stroke="#000" stroke-width="1.5"/>
<line x1="907.60" y1="700.00" x2="907.60" y2="733.00" stroke="#000" stroke-width="1.5"/>
<line x1="972.90" y1="700.00" x2="972.90" y2="733.00" stroke="#000" stroke-width="1.5"/>
<line x1="978.00" y1="700.00" x2="978.00" y2="733.00" stroke="#000" stroke-width="1.5"/>
<circle cx="905.50" cy="733.20" r="1.50" fill="#000" stroke="#000" stroke-width="1.2"/>
<circle cx="975.50" cy="733.20" r="1.50" fill="#000" stroke="#000" stroke-width="1.2"/>
<circle cx="893.50" cy="697.50" r="1.50" fill="#000" stroke="#000" stroke-width="1.2"/>
<circle cx="987.50" cy="697.50" r="1.50" fill="#000" stroke="#000" stroke-width="1.2"/>
<line x1="940.90" y1="709.60" x2="940.90" y2="723.70" stroke="#000" stroke-width="1.2"/>
<ellipse cx="940.7" cy="681.10" rx="52.00" ry="30.00" fill="#fff" stroke="#000" stroke-width="2.0"/>
<ellipse cx="940.7" cy="678.30" rx="52.00" ry="30.00" fill="#fff" stroke="#000" stroke-width="2.0"/>
<g transform="translate(940.7,678.30) scale(1,0.577)"><circle r="7.15" fill="none" stroke="#000" stroke-width="1.4" vector-effect="non-scaling-stroke"/><circle r="9.85" fill="none" stroke="#000" stroke-width="1.4" vector-effect="non-scaling-stroke"/><circle r="13.45" fill="none" stroke="#000" stroke-width="1.4" vector-effect="non-scaling-stroke"/><circle r="16.15" fill="none" stroke="#000" stroke-width="1.4" vector-effect="non-scaling-stroke"/><circle r="19.75" fill="none" stroke="#000" stroke-width="1.4" vector-effect="non-scaling-stroke"/><circle r="22.45" fill="none" stroke="#000" stroke-width="1.4" vector-effect="non-scaling-stroke"/><circle r="26.15" fill="none" stroke="#000" stroke-width="1.4" vector-effect="non-scaling-stroke"/><circle r="28.85" fill="none" stroke="#000" stroke-width="1.4" vector-effect="non-scaling-stroke"/><circle r="32.65" fill="none" stroke="#000" stroke-width="1.4" vector-effect="non-scaling-stroke"/><circle r="35.35" fill="none" stroke="#000" stroke-width="1.4" vector-effect="non-scaling-stroke"/><circle r="39.05" fill="none" stroke="#000" stroke-width="1.4" vector-effect="non-scaling-stroke"/><circle r="41.75" fill="none" stroke="#000" stroke-width="1.4" vector-effect="non-scaling-stroke"/><circle r="45.35" fill="none" stroke="#000" stroke-width="1.4" vector-effect="non-scaling-stroke"/><circle r="48.05" fill="none" stroke="#000" stroke-width="1.4" vector-effect="non-scaling-stroke"/><line x1="5.50" y1="0.00" x2="49.50" y2="0.00" stroke="#fff" stroke-width="1.8" vector-effect="non-scaling-stroke"/><line x1="0.00" y1="5.50" x2="0.00" y2="49.50" stroke="#fff" stroke-width="1.8" vector-effect="non-scaling-stroke"/><line x1="-5.50" y1="0.00" x2="-49.50" y2="0.00" stroke="#fff" stroke-width="1.8" vector-effect="non-scaling-stroke"/><line x1="-0.00" y1="-5.50" x2="-0.00" y2="-49.50" stroke="#fff" stroke-width="1.8" vector-effect="non-scaling-stroke"/><line x1="21.92" y1="21.92" x2="35.00" y2="35.00" stroke="#fff" stroke-width="1.6" vector-effect="non-scaling-stroke"/><line x1="-21.92" y1="21.92" x2="-35.00" y2="35.00" stroke="#fff" stroke-width="1.6" vector-effect="non-scaling-stroke"/><line x1="-21.92" y1="-21.92" x2="-35.00" y2="-35.00" stroke="#fff" stroke-width="1.6" vector-effect="non-scaling-stroke"/><line x1="21.92" y1="-21.92" x2="35.00" y2="-35.00" stroke="#fff" stroke-width="1.6" vector-effect="non-scaling-stroke"/><circle r="4.5" fill="#fff" stroke="#000" stroke-width="1.1" vector-effect="non-scaling-stroke"/></g>
<ellipse cx="940.7" cy="652.00" rx="52.00" ry="30.00" fill="#fff" stroke="#000" stroke-width="2.0"/>
<ellipse cx="940.7" cy="649.20" rx="52.00" ry="30.00" fill="#fff" stroke="#000" stroke-width="2.0"/>
<g transform="translate(940.7,649.20) scale(1,0.577)"><circle r="7.15" fill="none" stroke="#000" stroke-width="1.4" vector-effect="non-scaling-stroke"/><circle r="9.85" fill="none" stroke="#000" stroke-width="1.4" vector-effect="non-scaling-stroke"/><circle r="13.45" fill="none" stroke="#000" stroke-width="1.4" vector-effect="non-scaling-stroke"/><circle r="16.15" fill="none" stroke="#000" stroke-width="1.4" vector-effect="non-scaling-stroke"/><circle r="19.75" fill="none" stroke="#000" stroke-width="1.4" vector-effect="non-scaling-stroke"/><circle r="22.45" fill="none" stroke="#000" stroke-width="1.4" vector-effect="non-scaling-stroke"/><circle r="26.15" fill="none" stroke="#000" stroke-width="1.4" vector-effect="non-scaling-stroke"/><circle r="28.85" fill="none" stroke="#000" stroke-width="1.4" vector-effect="non-scaling-stroke"/><circle r="32.65" fill="none" stroke="#000" stroke-width="1.4" vector-effect="non-scaling-stroke"/><circle r="35.35" fill="none" stroke="#000" stroke-width="1.4" vector-effect="non-scaling-stroke"/><circle r="39.05" fill="none" stroke="#000" stroke-width="1.4" vector-effect="non-scaling-stroke"/><circle r="41.75" fill="none" stroke="#000" stroke-width="1.4" vector-effect="non-scaling-stroke"/><circle r="45.35" fill="none" stroke="#000" stroke-width="1.4" vector-effect="non-scaling-stroke"/><circle r="48.05" fill="none" stroke="#000" stroke-width="1.4" vector-effect="non-scaling-stroke"/><line x1="5.50" y1="0.00" x2="49.50" y2="0.00" stroke="#fff" stroke-width="1.8" vector-effect="non-scaling-stroke"/><line x1="0.00" y1="5.50" x2="0.00" y2="49.50" stroke="#fff" stroke-width="1.8" vector-effect="non-scaling-stroke"/><line x1="-5.50" y1="0.00" x2="-49.50" y2="0.00" stroke="#fff" stroke-width="1.8" vector-effect="non-scaling-stroke"/><line x1="-0.00" y1="-5.50" x2="-0.00" y2="-49.50" stroke="#fff" stroke-width="1.8" vector-effect="non-scaling-stroke"/><line x1="21.92" y1="21.92" x2="35.00" y2="35.00" stroke="#fff" stroke-width="1.6" vector-effect="non-scaling-stroke"/><line x1="-21.92" y1="21.92" x2="-35.00" y2="35.00" stroke="#fff" stroke-width="1.6" vector-effect="non-scaling-stroke"/><line x1="-21.92" y1="-21.92" x2="-35.00" y2="-35.00" stroke="#fff" stroke-width="1.6" vector-effect="non-scaling-stroke"/><line x1="21.92" y1="-21.92" x2="35.00" y2="-35.00" stroke="#fff" stroke-width="1.6" vector-effect="non-scaling-stroke"/><circle r="4.5" fill="#fff" stroke="#000" stroke-width="1.1" vector-effect="non-scaling-stroke"/></g>
<path d="M896.5,636 A44,25 0 0 0 984.5,636 Z" fill="#fff" stroke="#000" stroke-width="1.8"/>
<path d="M893.9,610 L893.9,628.5 A47,25.5 0 0 0 987.9,628.5 L987.9,610 Z" fill="#fff" stroke="#000" stroke-width="1.8"/>
<path d="M865,643.4 L905,644.5 L905,650.5 L865,650.2 Z" fill="#fff" stroke="#000" stroke-width="1.4"/>
<path d="M854,644 Q858,641.5 866,643.5 L866,650 Q858,652 854,648 Z" fill="#000" stroke="#000" stroke-width="1"/>
<polygon points="940.90,451.50 1111.40,549.50 1111.40,556.50 940.90,654.50 770.40,556.50 770.40,549.50" fill="#fff" stroke="#000" stroke-width="1.6" stroke-linejoin="miter" />
<line x1="940.90" y1="648.50" x2="940.90" y2="654.50" stroke="#000" stroke-width="1.2"/>
<circle cx="940.50" cy="544.30" r="5.00" fill="none" stroke="#000" stroke-width="1.6"/>
</svg></body></html>
